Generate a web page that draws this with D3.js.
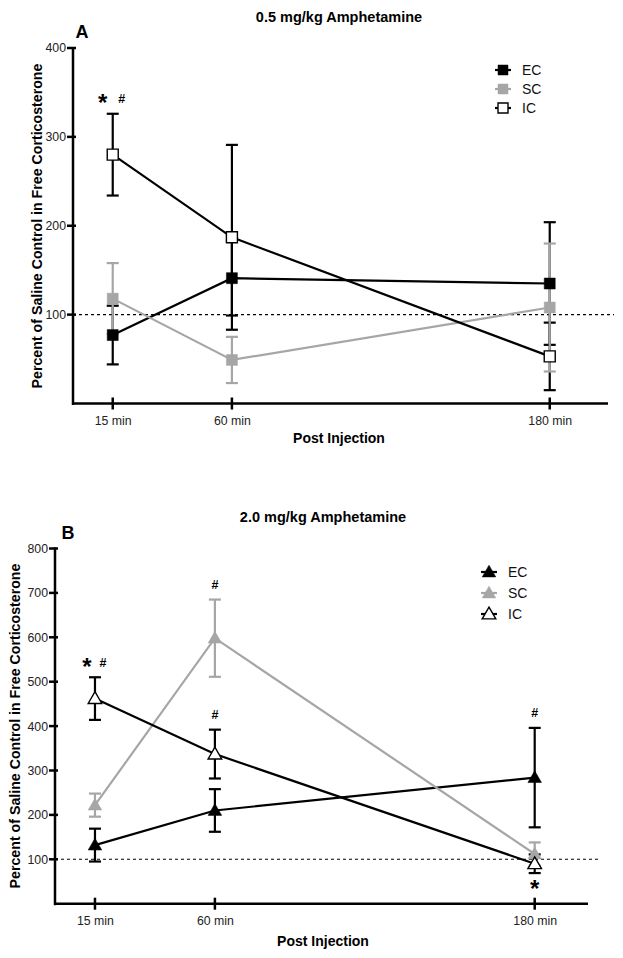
<!DOCTYPE html>
<html>
<head>
<meta charset="utf-8">
<script src="https://cdn.jsdelivr.net/npm/d3@7"></script>
<style>
  html, body { margin: 0; padding: 0; background: #fff; }
  svg { display: block; font-family: "Liberation Sans", Arial, Helvetica, sans-serif; }
</style>
</head>
<body>
<svg id="chart" width="623" height="958"></svg>
<script>
// ---------- data ----------
const timePoints = [15, 60, 180];
const timeLabels = ["15 min", "60 min", "180 min"];
const groups = ["EC", "SC", "IC"];

// Panel A: 0.5 mg/kg
const ecA = [77, 141, 135];
const ecAErr = [33, 42, 69];
const scA = [118, 49, 108];
const scAErr = [40, 26, 72];
const icA = [280, 187, 53];
const icAErr = [46, 104, 38];
const yTicksA = [100, 200, 300, 400];

// Panel B: 2.0 mg/kg
const ecB = [132, 210, 284];
const ecBErr = [37, 48, 112];
const scB = [222, 598, 112];
const scBErr = [26, 87, 26];
const icB = [462, 337, 90];
const icBErr = [48, 55, 21];
const yTicksB = [100, 200, 300, 400, 500, 600, 700, 800];

// significance marks: [time, anchor series, side, text, dx]
const marksA = [[15, "IC", "top", "*", -10], [15, "IC", "top", "#", 9]];
const marksB = [
  [15, "IC", "top", "*", -8], [15, "IC", "top", "#", 8],
  [60, "SC", "top", "#", 0], [60, "IC", "top", "#", 0],
  [180, "EC", "top", "#", 0], [180, "IC", "bottom", "*", 0]
];

const svg = d3.select("#chart");
const BLACK = "#000", GRAY = "#a6a6a6";

function drawPanel(cfg) {
  const g = svg.append("g");
  const x = d3.scaleLinear().domain([0, cfg.xMax]).range([cfg.left, cfg.right]);
  const y = d3.scaleLinear().domain([0, cfg.yMax]).range([cfg.bottom, cfg.top]);

  // reference line at 100
  g.append("line")
    .attr("x1", cfg.left).attr("x2", cfg.dashEnd)
    .attr("y1", y(100)).attr("y2", y(100))
    .attr("stroke", "#000").attr("stroke-width", 1.1).attr("stroke-dasharray", "3,3");

  // axes
  const yAxis = d3.axisLeft(y).tickValues(cfg.yTicks).tickSize(0).tickPadding(7);
  const ya = g.append("g").attr("transform", `translate(${cfg.left},0)`).call(yAxis);
  ya.select(".domain").remove();
  ya.selectAll("text").attr("font-size", 12.3).attr("fill", "#222")
    .attr("font-family", "Liberation Sans, Arial, sans-serif");
  g.append("line").attr("x1", cfg.left).attr("x2", cfg.left)
    .attr("y1", y(cfg.yMax) - 1).attr("y2", cfg.bottom + 1.5)
    .attr("stroke", "#000").attr("stroke-width", 2.5);
  g.selectAll(".ytk").data(cfg.yTicks).enter().append("line")
    .attr("x1", cfg.left - 6).attr("x2", cfg.left + 3)
    .attr("y1", d => y(d)).attr("y2", d => y(d))
    .attr("stroke", "#000").attr("stroke-width", 2.5);

  const xAxis = d3.axisBottom(x).tickValues(timePoints)
    .tickFormat((d, i) => timeLabels[i]).tickSize(0).tickPadding(13);
  const xa = g.append("g").attr("transform", `translate(0,${cfg.bottom})`).call(xAxis);
  xa.select(".domain").remove();
  xa.selectAll("text").attr("font-size", 12.3).attr("fill", "#222")
    .attr("font-family", "Liberation Sans, Arial, sans-serif");
  g.append("line").attr("x1", cfg.left - 1).attr("x2", cfg.right)
    .attr("y1", cfg.bottom).attr("y2", cfg.bottom)
    .attr("stroke", "#000").attr("stroke-width", 2.5);
  g.selectAll(".xtk").data(timePoints).enter().append("line")
    .attr("x1", d => x(d)).attr("x2", d => x(d))
    .attr("y1", cfg.bottom - 6).attr("y2", cfg.bottom + 6)
    .attr("stroke", "#000").attr("stroke-width", 2.5);

  // titles and labels
  g.append("text").attr("x", cfg.titleX).attr("y", cfg.titleY)
    .attr("text-anchor", "middle").attr("font-weight", "bold").attr("font-size", 14.5)
    .text(cfg.title);
  g.append("text").attr("x", cfg.letterX).attr("y", cfg.letterY)
    .attr("text-anchor", "middle").attr("font-weight", "bold").attr("font-size", 18)
    .text(cfg.letter);
  g.append("text").attr("x", cfg.titleX).attr("y", cfg.xLabelY)
    .attr("text-anchor", "middle").attr("font-weight", "bold").attr("font-size", 14)
    .text("Post Injection");
  g.append("text")
    .attr("transform", `translate(${cfg.yLabelX},${cfg.yLabelCY}) rotate(-90)`)
    .attr("text-anchor", "middle").attr("font-weight", "bold").attr("font-size", 14.2)
    .text("Percent of Saline Control in Free Corticosterone");

  const series = cfg.series;
  const color = { EC: BLACK, SC: GRAY, IC: BLACK };
  const fill = { EC: BLACK, SC: GRAY, IC: "#fff" };

  // error bars
  ["EC", "IC", "SC"].forEach(k => {
    const s = series[k];
    const eg = g.append("g");
    timePoints.forEach((t, i) => {
      const v = s.mean[i], e = s.err[i];
      eg.append("line").attr("x1", x(t)).attr("x2", x(t))
        .attr("y1", y(v + e)).attr("y2", y(v - e))
        .attr("stroke", color[k]).attr("stroke-width", 2.2);
      [v + e, v - e].forEach(c => {
        eg.append("line").attr("x1", x(t) - 6).attr("x2", x(t) + 6)
          .attr("y1", y(c)).attr("y2", y(c))
          .attr("stroke", color[k]).attr("stroke-width", 2.2);
      });
    });
  });

  // lines
  ["EC", "SC", "IC"].forEach(k => {
    const s = series[k];
    const line = d3.line().x((d, i) => x(timePoints[i])).y(d => y(d));
    g.append("path").datum(s.mean).attr("d", line)
      .attr("fill", "none").attr("stroke", color[k]).attr("stroke-width", 2.2);
  });

  // markers
  const symType = cfg.shape === "square" ? d3.symbolSquare : d3.symbolTriangle;
  const symSize = cfg.shape === "square" ? 121 : 80;
  ["EC", "SC", "IC"].forEach(k => {
    const s = series[k];
    g.selectAll(null).data(s.mean).enter().append("path")
      .attr("d", d3.symbol().type(symType).size(symSize))
      .attr("transform", (d, i) => `translate(${x(timePoints[i])},${y(d) + (cfg.shape === "square" ? 0 : 1)})`)
      .attr("fill", fill[k]).attr("stroke", k === "SC" ? GRAY : BLACK)
      .attr("stroke-width", k === "IC" ? 1.4 : 0.5);
  });

  // significance marks
  cfg.marks.forEach(([t, k, side, txt, dx]) => {
    const i = timePoints.indexOf(t);
    const s = series[k];
    const yy = side === "top" ? y(s.mean[i] + s.err[i]) - 15 : y(s.mean[i] - s.err[i]) + 11;
    const star = txt === "*";
    g.append("text").attr("x", x(t) + dx)
      .attr("y", yy + (star ? 12.5 : 4.5))
      .attr("text-anchor", "middle").attr("font-weight", "bold")
      .attr("font-size", star ? 24 : 12.5)
      .text(txt);
  });

  // legend
  const lg = g.append("g");
  groups.forEach((k, j) => {
    const ly = cfg.legY + j * cfg.legStep;
    lg.append("line").attr("x1", cfg.legX - 8).attr("x2", cfg.legX + 8)
      .attr("y1", ly).attr("y2", ly).attr("stroke", color[k]).attr("stroke-width", 2.2);
    lg.append("path")
      .attr("d", d3.symbol().type(symType).size(cfg.shape === "square" ? 100 : 80))
      .attr("transform", `translate(${cfg.legX},${ly + (cfg.shape === "square" ? 0 : 1)})`)
      .attr("fill", fill[k]).attr("stroke", k === "SC" ? GRAY : BLACK)
      .attr("stroke-width", k === "IC" ? 1.4 : 0.5);
    lg.append("text").attr("x", cfg.legTextX).attr("y", ly + 5)
      .attr("font-size", 14).attr("fill", "#111").text(k);
  });
}

drawPanel({
  title: "0.5 mg/kg Amphetamine", letter: "A",
  left: 73, right: 608, xMax: 202, top: 48, bottom: 403.5, yMax: 400,
  dashEnd: 614, yTicks: yTicksA,
  titleX: 339, titleY: 22, letterX: 82, letterY: 38, xLabelY: 443,
  yLabelX: 42, yLabelCY: 226,
  shape: "square",
  series: { EC: { mean: ecA, err: ecAErr }, SC: { mean: scA, err: scAErr }, IC: { mean: icA, err: icAErr } },
  marks: marksA,
  legX: 503, legY: 70, legStep: 19, legTextX: 522
});

drawPanel({
  title: "2.0 mg/kg Amphetamine", letter: "B",
  left: 55, right: 588, xMax: 200, top: 548.5, bottom: 903.7, yMax: 800,
  dashEnd: 600, yTicks: yTicksB,
  titleX: 323, titleY: 522, letterX: 68, letterY: 539, xLabelY: 946,
  yLabelX: 20, yLabelCY: 726,
  shape: "triangle",
  series: { EC: { mean: ecB, err: ecBErr }, SC: { mean: scB, err: scBErr }, IC: { mean: icB, err: icBErr } },
  marks: marksB,
  legX: 489, legY: 572, legStep: 21, legTextX: 508
});
</script>
</body>
</html>
